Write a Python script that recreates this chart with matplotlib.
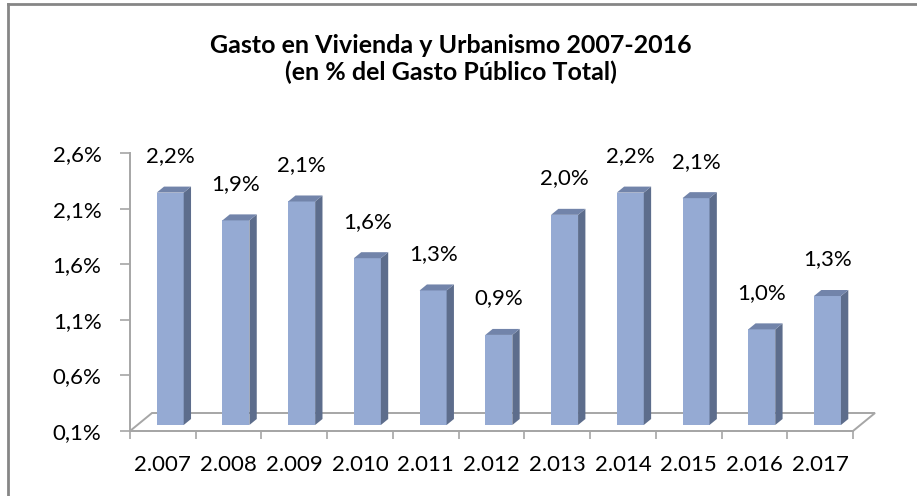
import numpy as np
import matplotlib.pyplot as plt
from matplotlib.patches import Polygon
from matplotlib.lines import Line2D

years = ["2.007", "2.008", "2.009", "2.010", "2.011", "2.012",
         "2.013", "2.014", "2.015", "2.016", "2.017"]
gasto = [2.19, 1.94, 2.11, 1.60, 1.31, 0.91, 1.99, 2.19, 2.14, 0.96, 1.26]
yticks = [0.1, 0.6, 1.1, 1.6, 2.1, 2.6]

plt.rcParams['font.family'] = ['Lato', 'DejaVu Sans']

W, H = 917, 496
fig = plt.figure(figsize=(W / 100, H / 100), dpi=100)
fig.patch.set_facecolor('white')

# plot area in pixels (left, bottom, right, top)
x0, y0, x1, y1 = 130, 431, 853, 153
ax = fig.add_axes([x0 / W, 1 - y0 / H, (x1 - x0) / W, (y0 - y1) / H])
ax.set_xlim(-0.5, len(years) - 0.5)
ax.set_ylim(yticks[0], yticks[-1])

# fake 3d: depth vector in data units
px_x = (x1 - x0) / len(years)
px_y = (y0 - y1) / (yticks[-1] - yticks[0])
Dx, Dy = 22 / px_x, 18 / px_y
f0, fb = 1 / 3, 1 / 3          # bar starts at 1/3 of the floor depth, 1/3 deep
bw = 27 / px_x
grey = '#A6A6A6'

# floor
fx = [-0.5, len(years) - 0.5, len(years) - 0.5 + Dx, -0.5 + Dx]
fy = [yticks[0], yticks[0], yticks[0] + Dy, yticks[0] + Dy]
ax.add_patch(Polygon(list(zip(fx, fy)), closed=True, fill=False,
                     edgecolor=grey, lw=1.4, clip_on=False, zorder=1))

front_c, side_c, top_c = '#95AAD3', '#5D6D8C', '#7284AA'
for i, v in enumerate(gasto):
    xl = i - bw / 2 + f0 * Dx
    xr = xl + bw
    yb = yticks[0] + f0 * Dy
    yt = v + f0 * Dy
    dx, dy = fb * Dx, fb * Dy
    ax.add_patch(Polygon([(xl, yb), (xr, yb), (xr, yt), (xl, yt)],
                         facecolor=front_c, edgecolor='none', clip_on=False, zorder=3))
    ax.add_patch(Polygon([(xr, yb), (xr + dx, yb + dy), (xr + dx, yt + dy), (xr, yt)],
                         facecolor=side_c, edgecolor='none', clip_on=False, zorder=3))
    ax.add_patch(Polygon([(xl, yt), (xr, yt), (xr + dx, yt + dy), (xl + dx, yt + dy)],
                         facecolor=top_c, edgecolor='none', clip_on=False, zorder=3))
    lab = f"{v:.1f}%".replace('.', ',')
    ax.annotate(lab, (i + f0 * Dx, yt + dy), xytext=(0, 22), textcoords='offset points',
                ha='center', va='center', fontsize=16, color='black',
                annotation_clip=False)

for s in ['top', 'right']:
    ax.spines[s].set_visible(False)
for s in ['left', 'bottom']:
    ax.spines[s].set_color(grey)
    ax.spines[s].set_linewidth(1.4)

ax.set_yticks(yticks)
ax.set_yticklabels([f"{t:.1f}%".replace('.', ',') for t in yticks], fontsize=16)
ax.tick_params(axis='y', length=7, width=1.2, color=grey, pad=13.5)

ax.set_xticks(np.arange(len(years) + 1) - 0.5)
ax.set_xticklabels([])
ax.tick_params(axis='x', which='major', length=6, width=1.2, color=grey)
ax.set_xticks(np.arange(len(years)), minor=True)
ax.set_xticklabels(years, minor=True, fontsize=16)
ax.tick_params(axis='x', which='minor', length=0, pad=17)

ax.set_facecolor('none')

fig.text(451 / W, 1 - 53 / H, "Gasto en Vivienda y Urbanismo 2007-2016",
         ha='center', va='baseline', fontsize=18, fontweight='bold')
fig.text(451 / W, 1 - 80 / H, "(en % del Gasto Público Total)",
         ha='center', va='baseline', fontsize=18, fontweight='bold')

# chart border (only top and left visible)
fig.add_artist(Line2D([8 / W, 8 / W], [0, 1 - 4 / H], color='#868686', lw=2))
fig.add_artist(Line2D([8 / W, 1], [1 - 4 / H, 1 - 4 / H], color='#868686', lw=2))

fig.savefig('out.png', dpi=100)
